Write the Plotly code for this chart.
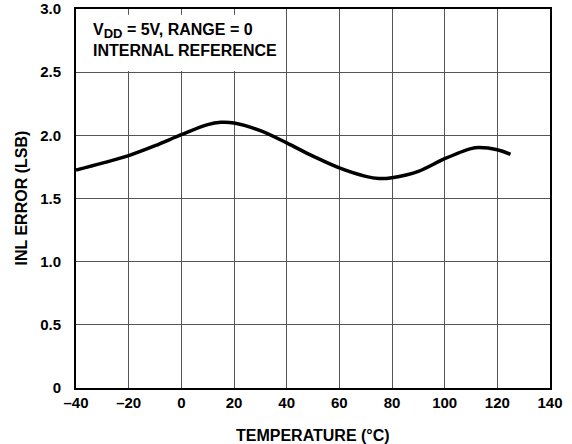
import plotly.graph_objects as go

# Data
temperature = [-40, -30, -20, -10, 0, 10, 15, 20, 30, 40, 50, 60, 70, 75, 80, 90, 100, 110, 113, 120, 125]
inl_error = [1.726, 1.78, 1.84, 1.918, 2.005, 2.085, 2.103, 2.098, 2.037, 1.94, 1.835, 1.742, 1.675, 1.658, 1.665, 1.715, 1.815, 1.895, 1.903, 1.886, 1.85]

x_ticks = [-40, -20, 0, 20, 40, 60, 80, 100, 120, 140]
x_ticktext = ["–40", "–20", "0", "20", "40", "60", "80", "100", "120", "140"]
y_ticks = [0, 0.5, 1.0, 1.5, 2.0, 2.5, 3.0]
y_ticktext = ["0", "0.5", "1.0", "1.5", "2.0", "2.5", "3.0"]

FONT = "Arial, Liberation Sans, Helvetica, sans-serif"

fig = go.Figure()
fig.add_trace(go.Scatter(
    x=temperature, y=inl_error, mode="lines",
    line=dict(color="black", width=3.5, shape="spline", smoothing=1.0),
    showlegend=False, hoverinfo="skip",
))

fig.update_layout(
    width=572, height=444,
    margin=dict(l=76, r=22, t=9, b=56, autoexpand=False),
    paper_bgcolor="white", plot_bgcolor="white",
    font=dict(family=FONT, color="black"),
    xaxis=dict(
        range=[-40, 140], tickvals=x_ticks, ticktext=x_ticktext,
        showgrid=True, gridcolor="#555555", gridwidth=1,
        showline=True, linecolor="black", linewidth=2, mirror=True,
        zeroline=False, ticks="", automargin=False,
        tickfont=dict(size=15, family=FONT, weight="bold", color="black"),
        ticklabelstandoff=0,
    ),
    yaxis=dict(
        range=[0, 3.0], tickvals=y_ticks, ticktext=y_ticktext,
        showgrid=True, gridcolor="#555555", gridwidth=1,
        showline=True, linecolor="black", linewidth=2, mirror=True,
        zeroline=False, ticks="", automargin=False,
        tickfont=dict(size=15, family=FONT, weight="bold", color="black"),
        ticklabelstandoff=10,
    ),
    shapes=[dict(
        type="rect", xref="x", yref="y", x0=-39.8, x1=37.4, y0=2.51, y1=2.955,
        fillcolor="white", line=dict(width=0), layer="between",
    )],
    annotations=[
        dict(text="<b>V<sub><span style='font-size:13px'>DD</span></sub> = 5V, RANGE = 0<br>INTERNAL REFERENCE</b>",
             xref="paper", yref="paper", x=(91 - 76) / 474, y=(388 - 19) / 379,
             xanchor="left", yanchor="top", align="left", showarrow=False,
             font=dict(size=16, family=FONT, color="black")),
        dict(text="<b>TEMPERATURE (°C)</b>",
             xref="paper", yref="paper", x=0.5, y=(388 - 435) / 379,
             xanchor="center", yanchor="middle", showarrow=False,
             font=dict(size=16, family=FONT, color="black")),
        dict(text="<b>INL ERROR (LSB)</b>", textangle=-90,
             xref="paper", yref="paper", x=(21 - 76) / 474, y=0.5,
             xanchor="center", yanchor="middle", showarrow=False,
             font=dict(size=16, family=FONT, color="black")),
    ],
)

fig.write_html("out.html")
